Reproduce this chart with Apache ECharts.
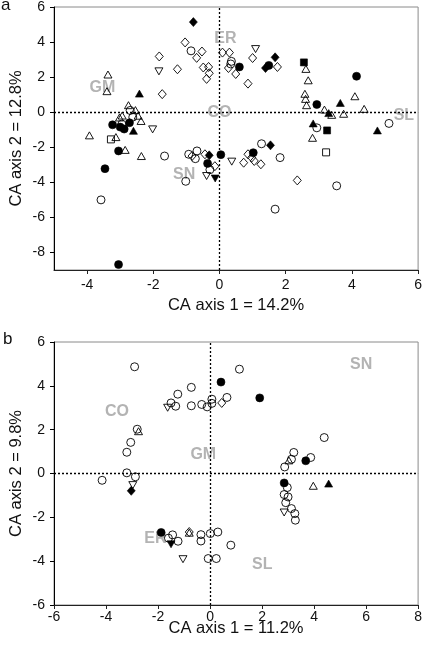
<!DOCTYPE html>
<html><head><meta charset="utf-8">
<script src="https://cdn.jsdelivr.net/npm/echarts@6/dist/echarts.min.js"></script>
<style>html,body{margin:0;padding:0;background:#fff}#c{width:425px;height:645px}</style>
</head><body><div id="c"></div>
<script>
// ---------- Panel a ----------
const aXTicks = [-4, -2, 0, 2, 4, 6];
const aYTicks = [-8, -6, -4, -2, 0, 2, 4, 6];
const aXTitle = 'CA axis 1 = 14.2%';
const aYTitle = 'CA axis 2 = 12.8%';
const aGroupNames = ['ER', 'GM', 'CO', 'SL', 'SN'];
const aGroupPos = [[0.18, 4.19], [-3.54, 1.42], [0, 0], [5.57, -0.17], [-1.07, -3.54]];

const aOpenCircle = [[-0.86,3.5],[0.34,2.75],[0.36,2.9],[-2.7,0.1],[-2.62,-0.28],[-2.95,-0.68],
  [-1.66,-2.5],[-0.93,-2.4],[-0.68,-2.21],[-0.73,-2.65],[-0.29,-3.28],[-1.02,-3.94],[1.27,-1.8],
  [1.83,-2.59],[-3.58,-5.0],[1.68,-5.53],[3.54,-4.2],[2.94,-0.89],[5.12,-0.64]];
const aFilledCircle = [[0.6,2.58],[1.49,2.67],[4.14,2.05],[2.94,0.44],[-3.23,-0.72],[-3.0,-0.85],
  [-2.88,-0.96],[-2.72,-0.6],[-3.05,-2.21],[-3.46,-3.22],[-3.05,-8.69],[0.04,-2.42],[-0.36,-2.92],[1.02,-2.31]];
const aOpenUpTri = [[-3.37,2.15],[-3.4,1.2],[-2.75,0.4],[-2.54,0.12],[-2.94,-0.19],[-3.02,-0.3],
  [-2.46,-0.2],[-2.37,-0.5],[-3.93,-1.32],[-3.13,-1.42],[-2.85,-2.15],[-2.36,-2.5],[2.61,2.47],
  [2.68,1.82],[2.58,1.05],[2.6,0.76],[2.63,0.4],[4.09,0.91],[4.37,0.19],[3.17,0.15],[3.39,-0.15],
  [3.75,-0.09],[2.81,-1.46]];
const aFilledUpTri = [[-2.42,1.06],[-2.6,-1.06],[3.65,0.53],[3.3,-0.05],[4.77,-1.04],[2.83,-0.64]];
const aOpenDownTri = [[-1.83,2.33],[1.09,3.6],[-2.02,-0.98],[0.37,-2.82],[-0.39,-3.64]];
const aFilledDownTri = [[-0.13,-3.78]];
const aOpenDiamond = [[-1.04,3.98],[-0.53,3.46],[-0.69,3.1],[-1.82,3.18],[-0.49,2.55],[-0.33,2.58],
  [-0.31,2.22],[-0.39,1.9],[-1.27,2.45],[-1.73,1.03],[0.09,3.4],[0.3,3.4],[0.27,2.52],[0.49,2.18],
  [0.86,1.63],[1.0,3.09],[1.75,2.58],[-0.83,-2.5],[-0.44,-2.4],[-0.14,-3.08],[0.86,-2.4],[0.97,-2.59],
  [0.73,-2.88],[1.05,-2.78],[1.25,-2.97],[2.35,-3.89]];
const aFilledDiamond = [[-0.79,5.14],[1.68,3.13],[1.39,2.52],[-0.31,-2.46],[1.54,-1.89]];
const aOpenSquare = [[-3.28,-1.55],[3.22,-2.29]];
const aFilledSquare = [[2.55,2.84],[3.25,-1.04]];

// ---------- Panel b ----------
const bXTicks = [-6, -4, -2, 0, 2, 4, 6, 8];
const bYTicks = [-6, -4, -2, 0, 2, 4, 6];
const bXTitle = 'CA axis 1 = 11.2%';
const bYTitle = 'CA axis 2 = 9.8%';
const bGroupNames = ['CO', 'GM', 'SN', 'ER', 'SL'];
const bGroupPos = [[-3.58, 2.81], [-0.26, 0.88], [5.81, 4.99], [-2.1, -2.97], [2.01, -4.14]];

const bOpenCircle = [[-2.9,4.87],[1.13,4.76],[-0.72,3.93],[-1.24,3.62],[-1.5,3.22],[-1.32,3.07],
  [-0.72,3.09],[-0.32,3.15],[-0.11,3.04],[0.07,3.39],[0.07,3.2],[0.65,3.47],[-2.8,2.02],[-3.05,1.42],
  [-3.2,0.97],[-3.2,0.03],[-2.87,-0.15],[-4.15,-0.31],[4.39,1.64],[3.22,0.96],[3.13,0.65],[2.87,0.3],
  [3.87,0.73],[2.97,-0.64],[2.85,-0.96],[3.0,-1.07],[2.91,-1.33],[3.13,-1.6],[3.26,-1.83],[3.28,-2.13],
  [-1.44,-2.8],[-1.6,-2.95],[-1.23,-3.09],[-0.35,-2.79],[-0.35,-3.08],[0.01,-2.74],[0.3,-2.67],
  [0.8,-3.27],[-0.07,-3.88],[0.24,-3.88]];
const bFilledCircle = [[0.42,4.17],[1.91,3.45],[3.68,0.58],[2.85,-0.43],[-1.88,-2.69]];
const bOpenUpTri = [[-2.75,1.93],[3.03,0.6],[3.97,-0.56],[-0.8,-2.7]];
const bFilledUpTri = [[4.56,-0.46]];
const bOpenDownTri = [[-1.63,3.0],[-2.97,-0.53],[2.85,-1.78],[-1.04,-3.91]];
const bFilledDownTri = [[-1.5,-3.23]];
const bOpenDiamond = [[0.45,3.22],[-0.8,-2.67]];
const bFilledDiamond = [[-3.03,-0.79]];

// ---------- build ----------
const FONT = '"Liberation Sans", Arial, sans-serif';
const chart = echarts.init(document.getElementById('c'), null, {renderer: 'canvas'});

const SHAPES = {
  circle: {symbol: 'circle', size: 8, rot: 0},
  up: {symbol: 'triangle', size: [8, 7], rot: 0},
  down: {symbol: 'triangle', size: [8, 7], rot: 180},
  diamond: {symbol: 'diamond', size: [8, 9], rot: 0},
  square: {symbol: 'rect', size: 7, rot: 0}
};
function mk(gi, data, shape, filled) {
  const s = SHAPES[shape];
  return {
    type: 'scatter', xAxisIndex: gi, yAxisIndex: gi, data: data,
    symbol: s.symbol, symbolSize: s.size, symbolRotate: s.rot,
    silent: true, z: filled ? 4 : 3,
    itemStyle: filled ? {color: '#000', borderColor: '#000', borderWidth: 0.6, opacity: 1}
                      : {color: 'rgba(255,255,255,0)', borderColor: '#000', borderWidth: 0.9, opacity: 1},
    emphasis: {disabled: true}
  };
}
function labels(gi, names, pos) {
  return {
    type: 'scatter', xAxisIndex: gi, yAxisIndex: gi, symbolSize: 0, silent: true, z: 2,
    data: names.map((n, i) => ({name: n, value: pos[i]})),
    label: {show: true, position: 'inside', formatter: '{b}', color: '#a0a0a0',
      fontFamily: FONT, fontWeight: 'bold', fontSize: 16},
    markLine: {silent: true, symbol: 'none', animation: false,
      lineStyle: {type: [2, 2], color: '#000', width: 1.3},
      label: {show: false},
      data: [{xAxis: 0}, {yAxis: 0}]}
  };
}
function xAxis(gi, min, max, ticks, title, lm, gap) {
  return {type: 'value', gridIndex: gi, min: min, max: max, splitLine: {show: false},
    axisLine: {show: true, onZero: false, lineStyle: {color: '#222', width: 1}},
    axisTick: {show: true, length: 4, customValues: ticks, lineStyle: {color: '#222'}},
    axisLabel: {customValues: ticks, margin: lm, color: '#111', fontFamily: FONT, fontSize: 14},
    name: title, nameLocation: 'middle', nameGap: gap, nameMoveOverlap: false,
    nameTextStyle: {color: '#111', fontFamily: FONT, fontSize: 16.5}};
}
function yAxis(gi, min, max, ticks, title) {
  return {type: 'value', gridIndex: gi, min: min, max: max, splitLine: {show: false},
    axisLine: {show: true, onZero: false, lineStyle: {color: '#000', width: 1}},
    axisTick: {show: true, length: 4, customValues: ticks, lineStyle: {color: '#000'}},
    axisLabel: {customValues: ticks, margin: 9, color: '#111', fontFamily: FONT, fontSize: 14},
    name: title, nameLocation: 'middle', nameGap: 29, nameRotate: 90, nameMoveOverlap: false,
    nameTextStyle: {color: '#111', fontFamily: FONT, fontSize: 16.5}};
}

const option = {
  animation: false,
  backgroundColor: '#fff',
  grid: [
    {left: 46, top: 7, width: 375, height: 263, show: true, borderColor: '#8a8a8a', borderWidth: 1},
    {left: 46, top: 342, width: 375, height: 263, show: true, borderColor: '#8a8a8a', borderWidth: 1}
  ],
  xAxis: [xAxis(0, -5, 6, aXTicks, aXTitle, 8, 27), xAxis(1, -6, 8, bXTicks, bXTitle, 5, 15)],
  yAxis: [yAxis(0, -9, 6, aYTicks, aYTitle), yAxis(1, -6, 6, bYTicks, bYTitle)],
  graphic: [
    {type: 'text', left: 1, top: -3, style: {text: 'a', font: '17px ' + FONT, fill: '#111'}},
    {type: 'text', left: 3, top: 331, style: {text: 'b', font: '17px ' + FONT, fill: '#111'}}
  ],
  series: [
    labels(0, aGroupNames, aGroupPos),
    mk(0, aOpenCircle, 'circle', false),
    mk(0, aOpenUpTri, 'up', false),
    mk(0, aOpenDownTri, 'down', false),
    mk(0, aOpenDiamond, 'diamond', false),
    mk(0, aOpenSquare, 'square', false),
    mk(0, aFilledCircle, 'circle', true),
    mk(0, aFilledUpTri, 'up', true),
    mk(0, aFilledDownTri, 'down', true),
    mk(0, aFilledDiamond, 'diamond', true),
    mk(0, aFilledSquare, 'square', true),
    labels(1, bGroupNames, bGroupPos),
    mk(1, bOpenCircle, 'circle', false),
    mk(1, bOpenUpTri, 'up', false),
    mk(1, bOpenDownTri, 'down', false),
    mk(1, bOpenDiamond, 'diamond', false),
    mk(1, bFilledCircle, 'circle', true),
    mk(1, bFilledUpTri, 'up', true),
    mk(1, bFilledDownTri, 'down', true),
    mk(1, bFilledDiamond, 'diamond', true)
  ]
};
chart.setOption(option);
</script></body></html>
